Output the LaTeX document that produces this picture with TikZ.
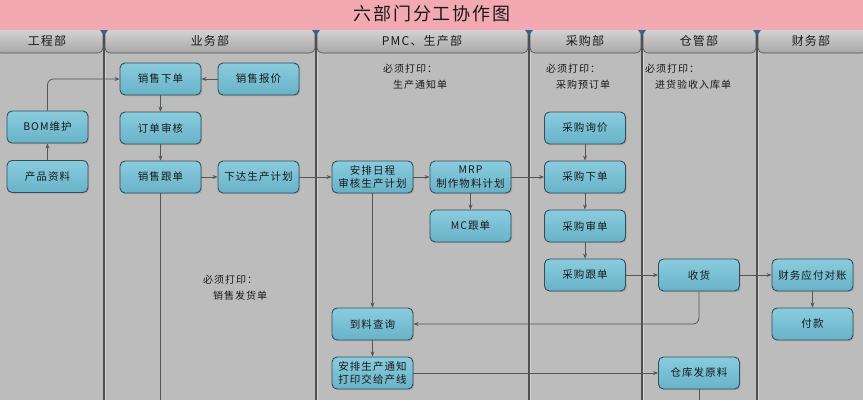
\documentclass[tikz,border=0pt]{standalone}
\usepackage{fontspec}
\setmainfont{Noto Sans CJK SC}[LetterSpace=10]
\usetikzlibrary{arrows.meta,shadows}
\definecolor{pinkcol}{RGB}{243,169,177}
\definecolor{bodycol}{RGB}{188,188,188}
\definecolor{headtop}{RGB}{210,210,210}
\definecolor{headbot}{RGB}{168,168,168}
\definecolor{divcol}{RGB}{80,80,80}
\definecolor{boxtop}{RGB}{138,204,222}
\definecolor{boxbot}{RGB}{104,178,200}
\definecolor{boxline}{RGB}{50,78,90}
\definecolor{linecol}{RGB}{85,85,85}
\definecolor{txtcol}{RGB}{25,25,25}
\definecolor{tricol}{RGB}{50,100,150}
\begin{document}
\begin{tikzpicture}[x=1pt,y=-1pt,
  stepbox/.style={draw=boxline, line width=0.9pt, rounded corners=5pt,
    top color=boxtop, bottom color=boxbot, minimum width=81pt, minimum height=32pt,
    inner sep=1pt, align=center, text=txtcol, font=\fontsize{10.5}{13.5}\selectfont,
    drop shadow={shadow xshift=1.2pt, shadow yshift=-1.2pt, opacity=0.35}},
  lanehead/.style={draw=divcol, line width=0.6pt, rounded corners=5pt, top color=headtop, bottom color=headbot},
  headtext/.style={text=txtcol, font=\fontsize{12}{14}\selectfont},
  notetext/.style={text=txtcol, align=left, inner sep=0pt, anchor=north west, font=\fontsize{10}{16}\selectfont},
  conn/.style={draw=linecol, line width=0.8pt},
  arr/.style={conn, -{Stealth[length=5pt,width=4pt]}}]
\useasboundingbox (0,0) rectangle (863,400);
% backgrounds
\fill[pinkcol] (0,0) rectangle (863,30);
\fill[bodycol] (0,30) rectangle (863,400);
\node[text=txtcol, font=\fontsize{18}{22}\selectfont] (title) at (432,14) {六部门分工协作图};
% lane headers
\foreach \xa/\xb in {-5/104, 104/316, 316/529, 529/642, 642/757, 757/868}{
  \path[lanehead] (\xa+1,30) -- (\xa+1,53) -- (\xb-1,53) -- (\xb-1,30);
}
\node[headtext] (h1) at (47,41) {工程部};
\node[headtext] (h2) at (210,41) {业务部};
\node[headtext] (h3) at (422,41) {PMC、生产部};
\node[headtext] (h4) at (585,41) {采购部};
\node[headtext] (h5) at (699,41) {仓管部};
\node[headtext] (h6) at (811,41) {财务部};
% dividers
\foreach \xd in {104,316,529,642,757}{
  \draw[divcol, line width=1.2pt] (\xd,30) -- (\xd,400);
  \draw[white, opacity=0.35, line width=0.6pt] (\xd+1.4,53) -- (\xd+1.4,400);
  \fill[tricol] (\xd-4,30) -- (\xd+4,30) -- (\xd,35.5) -- cycle;
}
% notes
\node[notetext] (n1) at (383,64) {必须打印：\\\hspace*{1em}生产通知单};
\node[notetext] (n2) at (546,64) {必须打印：\\\hspace*{1em}采购预订单};
\node[notetext] (n3) at (645,64) {必须打印：\\\hspace*{1em}进货验收入库单};
\node[notetext] (n4) at (203,275) {必须打印：\\\hspace*{1em}销售发货单};
% nodes
\node[stepbox] (xsxd) at (160.5,79) {销售下单};
\node[stepbox] (xsbj) at (258.5,79) {销售报价};
\node[stepbox] (ddsh) at (160.5,128) {订单审核};
\node[stepbox] (xsgd) at (160.5,177) {销售跟单};
\node[stepbox] (xdsc) at (258.5,177) {下达生产计划};
\node[stepbox] (bom) at (47.5,127) {BOM维护};
\node[stepbox] (cpzl) at (47.5,176.5) {产品资料};
\node[stepbox] (aprc) at (372.5,177) {安排日程\\审核生产计划};
\node[stepbox] (mrp) at (470.5,177) {MRP\\制作物料计划};
\node[stepbox] (mcgd) at (470.5,226) {MC跟单};
\node[stepbox] (cgxj) at (585,128) {采购询价};
\node[stepbox] (cgxd) at (585,177) {采购下单};
\node[stepbox] (cgsd) at (585,226) {采购审单};
\node[stepbox] (cggd) at (585,275) {采购跟单};
\node[stepbox] (sh) at (699,275) {收货};
\node[stepbox] (cwdz) at (812.5,275) {财务应付对账};
\node[stepbox] (fk) at (812.5,324) {付款};
\node[stepbox] (dlcx) at (372.5,324) {到料查询};
\node[stepbox] (apsc) at (372.5,373) {安排生产通知\\打印交给产线};
\node[stepbox] (ckfl) at (699,373) {仓库发原料};
\coordinate (e1) at (160.5,400);
\coordinate (e2) at (699,400);
% connectors
\draw[arr] (xsbj) -- (xsxd);
\draw[arr] (xsxd) -- (ddsh);
\draw[arr] (ddsh) -- (xsgd);
\draw[arr] (xsgd) -- (xdsc);
\draw[arr] (xdsc) -- (aprc);
\draw[arr] (aprc) -- (mrp);
\draw[arr] (mrp) -- (cgxd);
\draw[arr] (mrp) -- (mcgd);
\draw[arr] (cgxj) -- (cgxd);
\draw[arr] (cgxd) -- (cgsd);
\draw[arr] (cgsd) -- (cggd);
\draw[arr] (cggd) -- (sh);
\draw[arr] (sh) -- (cwdz);
\draw[arr] (cwdz) -- (fk);
\draw[arr, rounded corners=6pt] (sh.south) |- (dlcx.east);
\draw[arr] (aprc) -- (dlcx);
\draw[arr] (dlcx) -- (apsc);
\draw[arr] (apsc) -- (ckfl);
\draw[arr] (cpzl) -- (bom);
\draw[arr, rounded corners=6pt] (bom.north) |- (xsxd.west);
\draw[conn] (xsgd.south) -- (e1);
\draw[conn] (ckfl.south) -- (e2);
\end{tikzpicture}
\end{document}
